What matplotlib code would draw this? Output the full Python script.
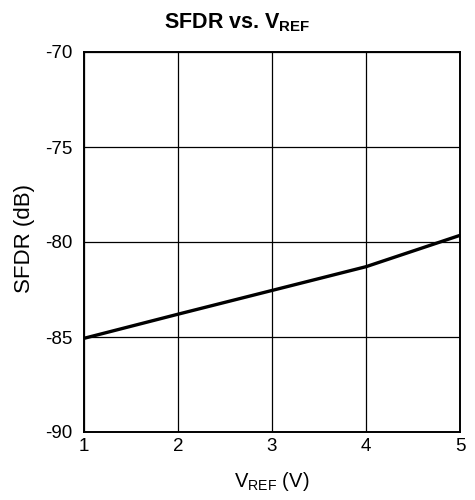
import matplotlib
matplotlib.use("Agg")
import matplotlib.pyplot as plt

plt.rcParams['font.family'] = ['Liberation Sans', 'DejaVu Sans']

vref = [1, 2, 3, 4, 5]
sfdr = [-85.07, -83.8, -82.55, -81.3, -79.65]
xticks = [1, 2, 3, 4, 5]
yticks = [-90, -85, -80, -75, -70]

fig = plt.figure(figsize=(4.75, 5.0), dpi=100)
ax = fig.add_axes([0.1768, 0.136, 0.7916, 0.76])
ax.plot(vref, sfdr, color='black', linewidth=2.4, solid_capstyle='butt', zorder=3)
ax.set_xlim(1, 5)
ax.set_ylim(-90, -70)
ax.set_xticks(xticks)
ax.set_yticks(yticks)
ax.set_xticklabels([str(t) for t in xticks])
ax.set_yticklabels([str(t) for t in yticks])
ax.grid(True, color='black', linewidth=0.9)
ax.tick_params(length=0, labelsize=13.5)
ax.tick_params(axis='y', pad=8.5)
ax.tick_params(axis='x', pad=4)
for s in ax.spines.values():
    s.set_linewidth(1.4)
ax.set_xlabel(r'V$_{\mathregular{REF}}$ (V)', fontsize=14.5)
ax.xaxis.set_label_coords(0.5, -0.100)
ax.set_ylabel('SFDR (dB)', fontsize=16)
ax.yaxis.set_label_coords(-0.131, 0.508)
fig.text(0.5, 0.944, r'SFDR vs. V$_{\mathregular{REF}}$', fontsize=15.5,
         fontweight='bold', ha='center', va='baseline')
fig.savefig('out.png', dpi=100)
